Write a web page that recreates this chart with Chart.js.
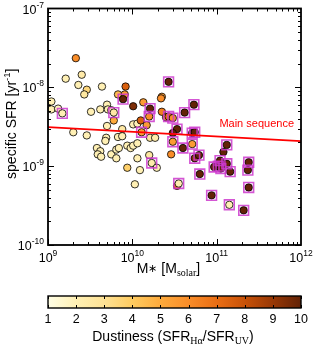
<!DOCTYPE html>
<html><head><meta charset="utf-8">
<script src="https://cdn.jsdelivr.net/npm/chart.js@4"></script>
<style>html,body{margin:0;padding:0;background:#fff}#wrap{width:316px;height:350px;position:relative}</style>
</head><body><div id="wrap"><canvas id="c"></canvas></div>
<script>
// log10 stellar mass [M_solar]
const logMass = [9.33,9.21,9.40,9.36,9.46,9.43,9.64,9.92,9.83,9.91,9.89,10.01,9.04,9.04,9.12,9.17,9.51,9.62,9.70,9.71,9.75,9.78,9.78,9.70,9.88,10.01,10.06,9.30,9.46,9.69,9.68,9.83,9.88,9.94,9.58,9.62,9.59,9.63,9.75,9.81,9.84,9.81,9.98,10.01,10.06,9.94,10.06,10.09,10.03,10.20,10.23,10.29,10.21,10.27,10.11,10.10,10.13,10.17,10.21,10.20,10.35,10.34,10.35,10.40,10.43,10.48,10.43,10.62,10.73,10.53,10.48,10.71,10.74,10.48,10.60,10.71,10.46,10.74,10.79,10.80,10.53,10.55,10.94,11.12,11.08,10.97,11.02,11.04,11.05,11.12,11.16,11.38,11.37,11.38,11.15,11.32];
// log10 specific SFR [yr^-1]
const logSSFR = [-7.63,-7.89,-7.84,-7.97,-8.03,-8.09,-7.99,-7.99,-8.09,-8.09,-8.15,-8.24,-8.18,-8.28,-8.27,-8.33,-8.31,-8.28,-8.22,-8.28,-8.29,-8.32,-8.42,-8.49,-8.53,-8.47,-8.46,-8.57,-8.61,-8.64,-8.68,-8.63,-8.62,-8.74,-8.77,-8.81,-8.85,-8.88,-8.85,-8.79,-8.77,-8.90,-8.77,-8.74,-8.71,-9.02,-8.90,-9.05,-9.23,-8.86,-8.96,-9.02,-8.64,-8.64,-8.57,-8.42,-8.19,-8.48,-8.27,-8.37,-8.12,-8.14,-8.31,-8.38,-8.37,-8.39,-7.93,-8.32,-8.22,-8.53,-8.58,-8.58,-8.57,-8.69,-8.77,-8.72,-8.85,-8.90,-8.86,-9.10,-9.25,-9.22,-9.37,-8.73,-8.82,-9.01,-9.00,-8.93,-9.03,-8.97,-9.07,-8.95,-9.05,-9.27,-9.49,-9.56];
// dustiness SFR_Ha / SFR_UV
const dustiness = [6,2,2.4,2,3.5,2.6,2,7.5,4.5,5.5,10,9.5,2,2,1.8,2,2,2,2,2,2,2.5,5,2,2.5,2,2,2,2,2,2,2,2,2,2,2,2,2,2,2,2,2,2,2,2,3.8,2,2,2,2.6,2.3,2,2.6,2.3,5.5,7.5,5.5,5.5,10,6,5.5,6,6.5,6,7,6,10,10,10,10,10,10,10,5.5,10,5.5,6,9.5,10,10,7,2.2,10,10,10,10,10,10,10,10,10,10,10,10,2,10];
// 1 = marked with a square
const boxed = [0,0,0,0,0,0,0,0,0,0,1,0,0,0,0,1,0,0,0,0,0,1,0,0,0,0,0,0,0,0,0,0,0,0,0,0,0,0,0,0,0,0,0,0,0,0,0,0,0,0,1,0,0,0,1,0,0,0,1,1,0,0,0,0,1,1,1,1,1,1,0,1,1,1,1,1,0,1,1,1,0,1,1,1,0,1,1,1,1,1,1,1,1,1,1,1];
const mainSeqMass = [1e9, 1e12];
const mainSeqSSFR = [3.12e-9, 2.08e-9];
const xMajor = [9,10,11,12];
const yMajor = [-10,-9,-8,-7];
const cbarTicks = [1,2,3,4,5,6,7,8,9,10];

const cmap = [[1,'#fffee6'],[2,'#fff0b4'],[3,'#fee295'],[4,'#fecb60'],[5,'#fdaa3c'],[6,'#f98d29'],[7,'#ea6e14'],[8,'#c85208'],[9,'#983806'],[10,'#622206']];
function hex(c){return [parseInt(c.slice(1,3),16),parseInt(c.slice(3,5),16),parseInt(c.slice(5,7),16)];}
function colorFor(v){
  v=Math.max(1,Math.min(10,v));
  for(let i=0;i<cmap.length-1;i++){
    const [a,ca]=cmap[i],[b,cb]=cmap[i+1];
    if(v<=b){const t=(v-a)/(b-a);const A=hex(ca),B=hex(cb);
      return 'rgb('+A.map((x,k)=>Math.round(x+(B[k]-x)*t)).join(',')+')';}
  }
  return cmap[cmap.length-1][1];
}

const pts = logMass.map((m,i)=>({x:Math.pow(10,m), y:Math.pow(10,logSSFR[i])}));
const boxPts = pts.filter((p,i)=>boxed[i]);
const msLine = mainSeqMass.map((m,i)=>({x:m,y:mainSeqSSFR[i]}));

const SANS = '"Liberation Sans", Arial, sans-serif';
const SERIF = '"Liberation Serif", "Times New Roman", serif';
function drawRich(ctx, parts, x, y, align){
  let w=0; for(const p of parts){ctx.font=p.f; w+=ctx.measureText(p.t).width;}
  let cx = align==='center'? x-w/2 : align==='right'? x-w : x;
  ctx.textAlign='left'; ctx.textBaseline='alphabetic';
  for(const p of parts){ctx.font=p.f; ctx.fillText(p.t, cx, y+(p.dy||0)); cx+=ctx.measureText(p.t).width;}
}

const decor = {
  id:'decor',
  afterDraw(chart){
    const ctx=chart.ctx, a=chart.chartArea, xs=chart.scales.x, ys=chart.scales.y;
    ctx.save();
    ctx.fillStyle='#000'; ctx.strokeStyle='#000';
    // ticks
    ctx.lineWidth=1;
    ctx.beginPath();
    for(let d=9; d<12; d++){
      for(let k=1;k<=9;k++){
        const v=k*Math.pow(10,d); const px=Math.round(xs.getPixelForValue(v))+0.5;
        const L = k===1?6:3;
        ctx.moveTo(px,a.bottom); ctx.lineTo(px,a.bottom-L);
        ctx.moveTo(px,a.top); ctx.lineTo(px,a.top+L);
      }
    }
    for(let d=-10; d<-7; d++){
      for(let k=1;k<=9;k++){
        const v=k*Math.pow(10,d); const py=Math.round(ys.getPixelForValue(v))+0.5;
        const L = k===1?6:3;
        ctx.moveTo(a.left,py); ctx.lineTo(a.left+L,py);
        ctx.moveTo(a.right,py); ctx.lineTo(a.right-L,py);
      }
    }
    ctx.stroke();
    // frame
    ctx.lineWidth=1.8;
    ctx.strokeRect(a.left,a.top,a.right-a.left,a.bottom-a.top);
    // tick labels
    const big='12.5px '+SANS, sup='8.5px '+SANS;
    xMajor.forEach(e=>{
      const px=xs.getPixelForValue(Math.pow(10,e));
      drawRich(ctx,[{t:'10',f:big},{t:String(e),f:sup,dy:-6}],px,a.bottom+17,'center');
    });
    yMajor.forEach(e=>{
      const py=ys.getPixelForValue(Math.pow(10,e));
      drawRich(ctx,[{t:'10',f:big},{t:String(e),f:sup,dy:-6}],a.left-4,py+5,'right');
    });
    // axis titles
    const tf='14px '+SANS;
    drawRich(ctx,[{t:'M',f:tf},{t:'\u2217',f:'11px '+SANS,dy:-1},{t:' [M',f:tf},{t:'solar',f:'10px '+SERIF,dy:3},{t:']',f:tf}],(a.left+a.right)/2-6,a.bottom+28,'center');
    ctx.save(); ctx.translate(16,(a.top+a.bottom)/2-3); ctx.rotate(-Math.PI/2);
    drawRich(ctx,[{t:'specific SFR [yr',f:tf},{t:'-1',f:'9.5px '+SANS,dy:-6},{t:']',f:tf}],0,0,'center');
    ctx.restore();
    // main sequence label
    ctx.fillStyle='#ff0000';
    ctx.font='11px '+SANS; ctx.textAlign='right'; ctx.textBaseline='middle';
    ctx.fillText('Main sequence', a.right-7, ys.getPixelForValue(2.2e-9)-15);
    // colorbar
    const cbTop=296, cbH=12, x0=a.left, x1=a.right;
    const g=ctx.createLinearGradient(x0,0,x1,0);
    cmap.forEach(([v,c])=>g.addColorStop((v-1)/9,c));
    ctx.fillStyle=g; ctx.fillRect(x0,cbTop,x1-x0,cbH);
    ctx.strokeStyle='#000'; ctx.lineWidth=1;
    ctx.beginPath();
    cbarTicks.forEach(v=>{
      const px=Math.round(x0+(x1-x0)*(v-1)/9)+0.5;
      ctx.moveTo(px,cbTop); ctx.lineTo(px,cbTop+3);
      ctx.moveTo(px,cbTop+cbH); ctx.lineTo(px,cbTop+cbH-3);
    });
    ctx.stroke();
    ctx.lineWidth=1.4; ctx.strokeRect(x0,cbTop,x1-x0,cbH);
    ctx.fillStyle='#000'; ctx.font='12.5px '+SANS; ctx.textAlign='center'; ctx.textBaseline='alphabetic';
    cbarTicks.forEach(v=>{ ctx.fillText(String(v), x0+(x1-x0)*(v-1)/9, 323); });
    const sub='10px '+SERIF;
    drawRich(ctx,[{t:'Dustiness (SFR',f:tf},{t:'H\u03b1',f:sub,dy:3},{t:'/SFR',f:tf},{t:'UV',f:sub,dy:3},{t:')',f:tf}],173,341,'center');
    ctx.restore();
  }
};

new Chart(document.getElementById('c'),{
  type:'scatter',
  data:{datasets:[
    {type:'line', data:msLine, borderColor:'#ff0000', borderWidth:1.8, pointRadius:0, fill:false, order:0},
    {data:boxPts, pointStyle:'rect', pointRadius:6.9, backgroundColor:'rgba(0,0,0,0)', borderColor:'rgba(204,56,204,0.85)', borderWidth:1.6, order:1},
    {data:pts, pointRadius:3.7, backgroundColor:dustiness.map(colorFor), borderColor:'#000', borderWidth:0.8, order:2}
  ]},
  options:{
    responsive:true, maintainAspectRatio:false, animation:false, events:[],
    layout:{padding:{left:48,right:15,top:6,bottom:105}},
    plugins:{legend:{display:false},tooltip:{enabled:false}},
    scales:{
      x:{type:'logarithmic',min:1e9,max:1e12,grid:{display:false,drawTicks:false},border:{display:false},ticks:{display:false},title:{display:false}},
      y:{type:'logarithmic',min:1e-10,max:1e-7,grid:{display:false,drawTicks:false},border:{display:false},ticks:{display:false},title:{display:false}}
    }
  },
  plugins:[decor]
});
</script>
</body></html>
